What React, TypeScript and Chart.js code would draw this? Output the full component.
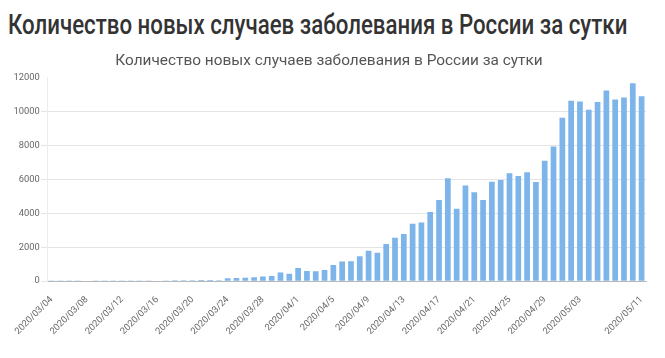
import React, { useEffect, useRef } from "react";
import { Chart, registerables } from "chart.js";

Chart.register(...registerables);

const PAGE_TITLE = "Количество новых случаев заболевания в России за сутки";
const CHART_TITLE = "Количество новых случаев заболевания в России за сутки";

const dateLabels = [
  "2020/03/04", "2020/03/05", "2020/03/06", "2020/03/07", "2020/03/08", "2020/03/09", "2020/03/10", "2020/03/11",
  "2020/03/12", "2020/03/13", "2020/03/14", "2020/03/15", "2020/03/16", "2020/03/17", "2020/03/18", "2020/03/19",
  "2020/03/20", "2020/03/21", "2020/03/22", "2020/03/23", "2020/03/24", "2020/03/25", "2020/03/26", "2020/03/27",
  "2020/03/28", "2020/03/29", "2020/03/30", "2020/03/31", "2020/04/1", "2020/04/2", "2020/04/3", "2020/04/4",
  "2020/04/5", "2020/04/6", "2020/04/7", "2020/04/8", "2020/04/9", "2020/04/10", "2020/04/11", "2020/04/12",
  "2020/04/13", "2020/04/14", "2020/04/15", "2020/04/16", "2020/04/17", "2020/04/18", "2020/04/19", "2020/04/20",
  "2020/04/21", "2020/04/22", "2020/04/23", "2020/04/24", "2020/04/25", "2020/04/26", "2020/04/27", "2020/04/28",
  "2020/04/29", "2020/04/30", "2020/05/01", "2020/05/02", "2020/05/03", "2020/05/04", "2020/05/05", "2020/05/06",
  "2020/05/07", "2020/05/08", "2020/05/10", "2020/05/11",
];

const newCases = [
  1, 6, 4, 3, 0, 3, 8, 6,
  11, 14, 4, 30, 21, 33, 52, 54,
  53, 61, 71, 57, 163, 182, 196, 228,
  270, 302, 501, 440, 771, 601, 582, 658,
  954, 1154, 1175, 1459, 1786, 1667, 2186, 2558,
  2774, 3388, 3448, 4070, 4785, 6060, 4268, 5642,
  5236, 4774, 5849, 5966, 6361, 6198, 6411, 5841,
  7099, 7933, 9623, 10633, 10581, 10102, 10559, 11231,
  10699, 10817, 11656, 10899,
];

const Y_MAX = 12000;
const Y_STEP = 2000;
const LABEL_STEP = 4;

function ChartView() {
  const canvasRef = useRef<HTMLCanvasElement | null>(null);

  useEffect(() => {
    if (!canvasRef.current) return;
    const last = dateLabels.length - 1;
    const chart = new Chart(canvasRef.current, {
      type: "bar",
      data: {
        labels: dateLabels,
        datasets: [
          {
            data: newCases,
            backgroundColor: "#7db5ea",
            barPercentage: 0.72,
            categoryPercentage: 0.9,
          },
        ],
      },
      options: {
        animation: false,
        responsive: true,
        maintainAspectRatio: false,
        layout: { padding: { left: 4, right: 11, top: 0, bottom: 0 } },
        plugins: {
          legend: { display: false },
          tooltip: { enabled: false },
          title: {
            display: true,
            text: CHART_TITLE,
            color: "#555",
            font: { family: "Roboto", size: 15.4, weight: "normal" },
            padding: { top: 8, bottom: 7 },
          },
        },
        scales: {
          x: {
            grid: { display: false },
            border: { color: "#b8b8b8" },
            ticks: {
              autoSkip: false,
              minRotation: 45,
              maxRotation: 45,
              padding: 5,
              color: "#666",
              font: { family: "Roboto", size: 9.3 },
              callback: (_v: any, i: number) =>
                (i % LABEL_STEP === 0 && i + LABEL_STEP <= last) || i === last ? dateLabels[i] : "",
            },
          },
          y: {
            min: 0,
            max: Y_MAX,
            ticks: {
              stepSize: Y_STEP,
              color: "#666",
              padding: 1.5,
              font: { family: "Roboto", size: 9.3 },
              callback: (v: any) => String(v),
            },
            grid: {
              color: (ctx: any) => (ctx.tick && ctx.tick.value === Y_MAX ? "rgba(0,0,0,0)" : "#e4e4e4"),
              tickLength: 6,
            },
            border: { color: "#ececec" },
          },
        },
      },
    });
    return () => chart.destroy();
  }, []);

  return (
    <div style={{ position: "relative", width: "100%", height: 298 }}>
      <canvas ref={canvasRef} />
    </div>
  );
}

export default function App() {
  return (
    <div>
      <div
        style={{
          fontFamily: "Roboto",
          fontWeight: 500,
          fontSize: 28,
          color: "#333",
          lineHeight: "34px",
          height: 36,
          whiteSpace: "nowrap",
          transform: "scaleX(0.795)",
          transformOrigin: "0 0",
        }}
      >
        {PAGE_TITLE}
      </div>
      <ChartView />
    </div>
  );
}
